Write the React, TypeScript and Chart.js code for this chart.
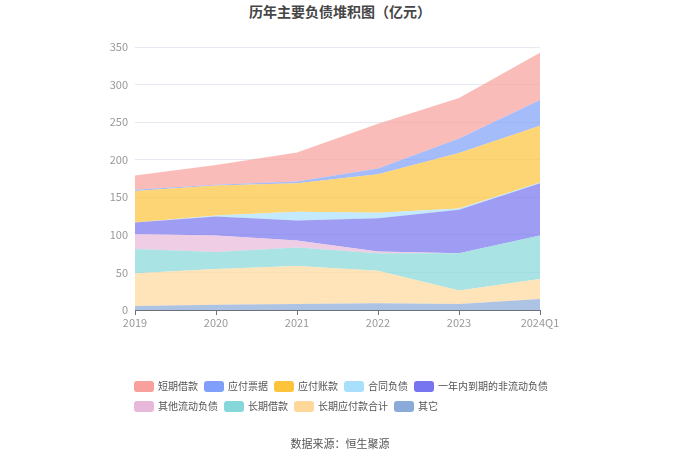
import { useEffect, useRef } from 'react';
import { Chart, registerables } from 'chart.js';

Chart.register(...registerables);

const years = ['2019', '2020', '2021', '2022', '2023', '2024Q1'];
const yTicks = [0, 50, 100, 150, 200, 250, 300, 350];

// stacked bottom -> top
const other = [5.3, 7.1, 8.0, 8.9, 8.0, 14.7];
const longPayable = [43.6, 47.5, 50.6, 43.5, 17.8, 26.6];
const longLoan = [32.4, 22.7, 24.5, 23.1, 49.7, 57.8];
const otherCurrent = [20.0, 21.8, 9.3, 2.2, 0, 0];
const dueInYear = [15.1, 25.3, 26.7, 44.5, 57.8, 69.7];
const contractLiab = [0, 1.3, 11.5, 7.1, 1.8, 0.9];
const accountsPayable = [41.8, 40.0, 38.2, 51.5, 73.7, 75.5];
const notesPayable = [1.7, 0.9, 2.2, 7.6, 19.5, 34.2];
const shortLoan = [19.1, 26.2, 38.7, 59.5, 53.8, 63.1];

const series = [
  { name: '其它', data: other, color: '#8aaad9' },
  { name: '长期应付款合计', data: longPayable, color: '#fdd89a' },
  { name: '长期借款', data: longLoan, color: '#85d7d9' },
  { name: '其他流动负债', data: otherCurrent, color: '#e8b8da' },
  { name: '一年内到期的非流动负债', data: dueInYear, color: '#7674ee' },
  { name: '合同负债', data: contractLiab, color: '#a8e0fb' },
  { name: '应付账款', data: accountsPayable, color: '#fdc33b' },
  { name: '应付票据', data: notesPayable, color: '#7f9ffa' },
  { name: '短期借款', data: shortLoan, color: '#f8a09b' },
];

const legendRows = [
  ['短期借款', '应付票据', '应付账款', '合同负债', '一年内到期的非流动负债'],
  ['其他流动负债', '长期借款', '长期应付款合计', '其它'],
];

const FONT = '"Noto Sans CJK SC", "Noto Sans", sans-serif';

function alpha(hex: string, a: number) {
  const n = parseInt(hex.slice(1), 16);
  return `rgba(${(n >> 16) & 255},${(n >> 8) & 255},${n & 255},${a})`;
}

export default function App() {
  const canvasRef = useRef<HTMLCanvasElement>(null);

  useEffect(() => {
    const canvas = canvasRef.current;
    if (!canvas) return;

    const chart = new Chart(canvas, {
      type: 'line',
      data: {
        labels: years,
        datasets: series.map((s, i) => ({
          label: s.name,
          data: s.data,
          backgroundColor: alpha(s.color, 0.7),
          borderColor: 'transparent',
          borderWidth: 0,
          pointRadius: 0,
          tension: 0,
          fill: i === 0 ? 'origin' : '-1',
        })),
      },
      options: {
        animation: false,
        responsive: false,
        maintainAspectRatio: false,
        layout: { padding: { top: 47, right: 140, left: 0, bottom: 0 } },
        plugins: {
          legend: { display: false },
          tooltip: { enabled: false },
        },
        scales: {
          x: {
            offset: false,
            grid: {
              drawOnChartArea: false,
              drawTicks: true,
              tickLength: 5,
              color: '#6e7079',
            },
            border: { color: '#6e7079' },
            ticks: {
              padding: 1,
              color: '#999',
              font: { family: FONT, size: 11 },
              maxRotation: 0,
              autoSkip: false,
            },
            afterFit: (s: any) => {
              s.height = 150;
            },
          },
          y: {
            stacked: true,
            min: 0,
            max: 350,
            afterBuildTicks: (s: any) => {
              s.ticks = yTicks.map((v) => ({ value: v }));
            },
            grid: { color: '#e6e9f1', drawTicks: false },
            border: { display: false },
            ticks: {
              padding: 7,
              color: '#999',
              font: { family: FONT, size: 11 },
            },
            afterFit: (s: any) => {
              s.width = 135;
            },
          },
        },
      },
    });

    return () => chart.destroy();
  }, []);

  const colorOf = (name: string) => series.find((s) => s.name === name)!.color;

  return (
    <div
      style={{
        position: 'fixed',
        left: 0,
        top: 0,
        width: 680,
        height: 460,
        background: '#fff',
        fontFamily: FONT,
      }}
    >
      <div
        style={{
          position: 'absolute',
          top: 1,
          left: 0,
          width: 680,
          textAlign: 'center',
          fontSize: 14,
          fontWeight: 'bold',
          color: '#464646',
          lineHeight: '20px',
        }}
      >
        历年主要负债堆积图（亿元）
      </div>
      <canvas ref={canvasRef} width={680} height={460} style={{ position: 'absolute', left: 0, top: 0 }} />
      <div style={{ position: 'absolute', left: 134, top: 376 }}>
        {legendRows.map((row, r) => (
          <div key={r} style={{ display: 'flex', height: 20, alignItems: 'center' }}>
            {row.map((name) => (
              <div key={name} style={{ display: 'flex', alignItems: 'center', marginRight: 6 }}>
                <span
                  style={{
                    width: 20,
                    height: 11,
                    borderRadius: 3,
                    background: colorOf(name),
                    marginRight: 4,
                    display: 'inline-block',
                  }}
                />
                <span style={{ fontSize: 10, color: '#555', lineHeight: '12px' }}>{name}</span>
              </div>
            ))}
          </div>
        ))}
      </div>
      <div
        style={{
          position: 'absolute',
          top: 435,
          left: 0,
          width: 680,
          textAlign: 'center',
          fontSize: 11,
          color: '#555',
          lineHeight: '16px',
        }}
      >
        数据来源：恒生聚源
      </div>
    </div>
  );
}
